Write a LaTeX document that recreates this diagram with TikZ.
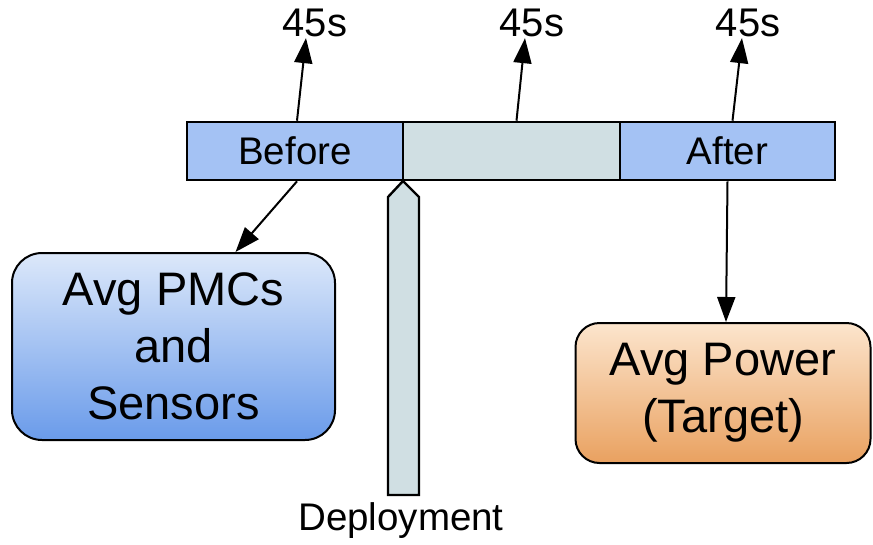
\documentclass[tikz,border=0pt]{standalone}
\usepackage{fontspec}
\setmainfont{Liberation Sans}
\usetikzlibrary{arrows.meta}
\definecolor{segblue}{HTML}{A4C2F4}
\definecolor{seggray}{HTML}{D0DFE3}
\definecolor{pmctop}{HTML}{DCE8FA}
\definecolor{pmcbot}{HTML}{6A9BEA}
\definecolor{pwrtop}{HTML}{FCE5CD}
\definecolor{pwrbot}{HTML}{E9A160}
\tikzset{
  seg/.style={draw, line width=2.6pt, minimum height=58pt, inner sep=0pt,
    font=\fontsize{38.5}{44}\selectfont},
  dur/.style={font=\fontsize{40}{46}\selectfont, inner sep=1pt},
  result/.style={draw, line width=2pt, align=center, inner sep=0pt,
    font=\fontsize{47}{57}\selectfont},
  link/.style={line width=2pt, -{Triangle[length=25pt,width=18pt]}}
}
\begin{document}
\begin{tikzpicture}[x=1pt,y=-1pt]
\useasboundingbox (0,0) rectangle (873,544);

% deployment marker under the timeline bar
\draw[line width=2.4pt, fill=seggray, line join=miter]
  (403,181) -- (388,197) -- (388,495) -- (419,495) -- (419,197) -- cycle;
\node[font=\fontsize{38.5}{46}\selectfont, anchor=base] (dep) at (401,530) {Deployment};

% timeline bar: three 45 s windows
\node[seg, fill=segblue, minimum width=216pt] (before) at (295,151) {Before};
\node[seg, fill=seggray, minimum width=217pt] (mid) at (511.5,151) {};
\node[seg, fill=segblue, minimum width=215pt] (after) at (727.5,151) {After};

% durations
\node[dur] (d1) at (315,23) {45s};
\node[dur] (d2) at (532,23) {45s};
\node[dur] (d3) at (748,23) {45s};

\draw[link] ([xshift=2pt]before.north) -- ([xshift=-9pt]d1.south);
\draw[link] ([xshift=5pt]mid.north) -- ([xshift=-7pt]d2.south);
\draw[link] ([xshift=5pt]after.north) -- ([xshift=-6pt]d3.south);

% averaged quantities
\node[result, rounded corners=30pt, top color=pmctop, bottom color=pmcbot,
  minimum width=323pt, minimum height=187pt] (pmc) at (173.5,346.5)
  {Avg PMCs\\and\\Sensors};
\node[result, rounded corners=24pt, top color=pwrtop, bottom color=pwrbot,
  minimum width=295pt, minimum height=140pt] (pwr) at (723,393)
  {Avg Power\\(Target)};

\draw[link] ([xshift=2pt]before.south) -- ([xshift=62pt]pmc.north);
\draw[link] (after.south) -- ([xshift=3pt]pwr.north);
\end{tikzpicture}
\end{document}
